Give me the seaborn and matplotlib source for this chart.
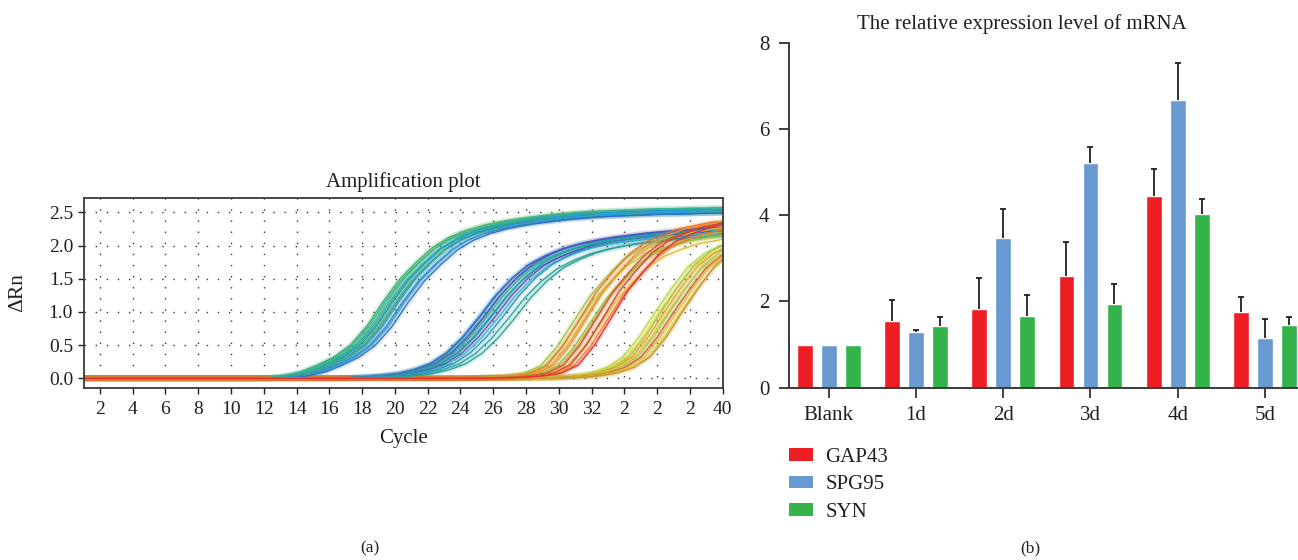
import numpy as np
import pandas as pd
import matplotlib
matplotlib.use("Agg")
import matplotlib.pyplot as plt
from matplotlib.patches import Patch
import seaborn as sns

# ---------------- data: (a) amplification plot ----------------
CYCLE_TICKS = [2, 4, 6, 8, 10, 12, 14, 16, 18, 20, 22, 24, 26, 28, 30, 32, 34, 36, 38, 40]
CYCLE_TICK_LABELS = ["2", "4", "6", "8", "10", "12", "14", "16", "18", "20", "22", "24",
                     "26", "28", "30", "32", "2", "2", "2", "40"]
DRN_TICKS = [0.0, 0.5, 1.0, 1.5, 2.0, 2.5]
DRN_TICK_LABELS = ["0.0", "0.5", "1.0", "1.5", "2.0", "2.5"]

# Read curve shapes per well group (dRn at cycles relative to the well's midpoint cycle)
PROFILE_A_START = -21
PROFILE_A = [0.0] * 14 + [0.01, 0.04, 0.10, 0.20, 0.32, 0.50, 0.78, 1.15, 1.48, 1.73, 1.95,
                          2.10, 2.20, 2.27, 2.32, 2.36, 2.39, 2.42, 2.44, 2.46, 2.47, 2.48,
                          2.49, 2.50, 2.50, 2.51, 2.51, 2.52, 2.52]
MID_A = [19.3, 19.4, 19.6, 19.65, 19.8, 19.9, 20.0, 20.15, 20.3, 20.45, 20.6, 20.8]
SCALE_A = [1.01, 1.0, 1.02, 0.99, 1.0, 1.01, 0.99, 1.0, 1.02, 0.99, 1.0, 0.99]
COLORS_A = ['#3DAE6A', '#2FB39A', '#4DB86B', '#29A8C8', '#3EB05A', '#1F9AD6',
            '#58B44E', '#2C8BD0', '#33AFA0', '#3A78C8', '#2BA3D8', '#2E6FC2']

PROFILE_B_START = -27
PROFILE_B = [0.0] * 19 + [0.01, 0.02, 0.04, 0.07, 0.13, 0.22, 0.38, 0.62, 0.92, 1.24, 1.50,
                          1.70, 1.83, 1.93, 2.00, 2.05, 2.09, 2.12, 2.15, 2.17, 2.19, 2.21,
                          2.22, 2.23]
MID_B = [25.1, 25.2, 25.35, 25.5, 25.6, 25.75, 25.9, 26.1, 26.3, 26.6, 26.9, 27.3]
SCALE_B = [1.0, 1.01, 0.99, 1.02, 1.0, 0.98, 1.01, 1.0, 0.99, 1.01, 0.97, 0.98]
COLORS_B = ['#2C9FCF', '#3A5FC0', '#2AA7B5', '#4C54B8', '#3BB08A', '#2F7FCB',
            '#1FA3A8', '#5A4FB0', '#36B6C4', '#2E8FC0', '#26A39A', '#2B9C9C']

PROFILE_C_START = -33
PROFILE_C = [0.0] * 26 + [0.005, 0.01, 0.02, 0.04, 0.08, 0.20, 0.50, 0.90, 1.30, 1.60, 1.87,
                          2.05, 2.16, 2.25, 2.30, 2.35, 2.37, 2.39]
MID_C = [30.9, 31.1, 31.3, 31.5, 31.7, 31.9, 32.1, 32.3, 32.5, 32.7, 32.95, 33.2]
SCALE_C = [0.95, 0.9, 1.0, 0.96, 1.0, 0.92, 0.94, 1.0, 0.9, 1.01, 0.97, 1.01]
COLORS_C = ['#9CC23C', '#B8C83A', '#E8732A', '#D9A62A', '#F08C2E', '#8FBF45',
            '#CFAE3A', '#D94A2C', '#E6B830', '#C7452E', '#EE7A28', '#E5282A']

PROFILE_D_START = -37
PROFILE_D = [0.0] * 29 + [0.005, 0.01, 0.02, 0.04, 0.08, 0.16, 0.32, 0.62, 1.00, 1.36, 1.68,
                          1.88, 2.00, 2.08]
MID_D = [35.9, 36.1, 36.3, 36.45, 36.6, 36.8, 37.0, 37.2, 37.4, 37.6]
SCALE_D = [1.0, 0.98, 1.02, 1.0, 0.97, 1.01, 0.99, 1.0, 0.98, 1.02]
COLORS_D = ['#B9D544', '#E9D23A', '#9CC840', '#E89A2C', '#D8C034', '#A8CC48',
            '#C0602E', '#EDB23A', '#C9D040', '#D08A2A']

# ---------------- data: (b) relative expression ----------------
DAYS = ["Blank", "1d", "2d", "3d", "4d", "5d"]
GENES = ["GAP43", "SPG95", "SYN"]
GAP43_MEAN = [1.0, 1.55, 1.83, 2.59, 4.45, 1.76]
GAP43_ERR = [0.0, 0.48, 0.72, 0.78, 0.61, 0.35]
SPG95_MEAN = [1.0, 1.29, 3.47, 5.21, 6.68, 1.15]
SPG95_ERR = [0.0, 0.04, 0.68, 0.37, 0.85, 0.44]
SYN_MEAN = [1.0, 1.43, 1.66, 1.94, 4.03, 1.46]
SYN_ERR = [0.0, 0.22, 0.48, 0.46, 0.34, 0.17]
BAR_COLORS = ['#ED1F24', '#6899D0', '#33B34A']
BAR_TICKS = [0, 2, 4, 6, 8]

# ---------------- style ----------------
sns.set_style("ticks")
plt.rcParams['font.family'] = ['Liberation Serif', 'DejaVu Serif']
TXT = '#231F20'
plt.rcParams['text.color'] = TXT
plt.rcParams['axes.labelcolor'] = TXT
plt.rcParams['xtick.color'] = TXT
plt.rcParams['ytick.color'] = TXT

W, H = 1298, 560
fig = plt.figure(figsize=(W / 100, H / 100), dpi=100)


def fa(l, t, r, b):
    return [l / W, 1 - b / H, (r - l) / W, (b - t) / H]


# ================= (a) =================
ax = fig.add_axes(fa(83.5, 197.7, 722.6, 388))
groups = [
    ("A", PROFILE_A_START, PROFILE_A, MID_A, SCALE_A, COLORS_A),
    ("B", PROFILE_B_START, PROFILE_B, MID_B, SCALE_B, COLORS_B),
    ("D", PROFILE_D_START, PROFILE_D, MID_D, SCALE_D, COLORS_D),
    ("C", PROFILE_C_START, PROFILE_C, MID_C, SCALE_C, COLORS_C),
]
frames = []
palette = {}
for name, start, prof, mids, scales, cols in groups:
    prof = np.asarray(prof)
    rel = np.arange(len(prof)) + start
    for i, mid in enumerate(mids):
        wid = f"{name}{i:02d}"
        frames.append(pd.DataFrame({"cycle": mid + rel, "drn": prof * scales[i], "well": wid}))
        palette[wid] = cols[i]
amp = pd.concat(frames, ignore_index=True)
order = list(palette.keys())

sns.lineplot(data=amp, x="cycle", y="drn", hue="well", hue_order=order, palette=palette,
             estimator=None, sort=False, legend=False, lw=4.0, alpha=0.15, ax=ax)
sns.lineplot(data=amp, x="cycle", y="drn", hue="well", hue_order=order, palette=palette,
             estimator=None, sort=False, legend=False, lw=1.0, alpha=0.95, ax=ax)

ax.set_xlim(1, 40)
ax.set_ylim(-0.146, 2.72)
ax.set_xticks(CYCLE_TICKS)
ax.set_xticklabels(CYCLE_TICK_LABELS)
ax.set_yticks(DRN_TICKS)
ax.set_yticklabels(DRN_TICK_LABELS)
ax.grid(True, color='#333333', linestyle=(0, (1, 7)), linewidth=1.0)
ax.set_axisbelow(True)
for s in ax.spines.values():
    s.set_visible(True)
    s.set_color('#3a3a3a')
    s.set_linewidth(1.3)
ax.tick_params(axis='both', labelsize=14, length=4.5, width=1.0, pad=3, direction='out')
ax.tick_params(axis='x', pad=5)
ax.set_title("Amplification plot", fontsize=15, pad=8)
ax.set_xlabel("Cycle", fontsize=15)
ax.set_ylabel("ΔRn", fontsize=15.5)
ax.xaxis.set_label_coords(0.5, -0.215)
ax.yaxis.set_label_coords(-0.088, 0.5)

# ================= (b) =================
axb = fig.add_axes(fa(788.7, 42.7, 1298, 387.7))
bdf = pd.DataFrame({
    "day": DAYS * 3,
    "gene": [GENES[0]] * 6 + [GENES[1]] * 6 + [GENES[2]] * 6,
    "value": GAP43_MEAN + SPG95_MEAN + SYN_MEAN,
})
sns.barplot(data=bdf, x="day", y="value", hue="gene", order=DAYS, hue_order=GENES,
            palette=BAR_COLORS, saturation=1, width=0.825, gap=0.335, errorbar=None,
            legend=False, ax=axb)
errs = [GAP43_ERR, SPG95_ERR, SYN_ERR]
for cont, err in zip(axb.containers, errs):
    for bar, e in zip(cont, err):
        if e > 0:
            top = bar.get_height()
            _, caps, _ = axb.errorbar(bar.get_x() + bar.get_width() / 2, top,
                                      yerr=[[0], [e]], fmt='none', ecolor=TXT, elinewidth=1.3,
                                      capsize=2.4, capthick=1.3, zorder=3)
            for c in caps:
                if np.allclose(c.get_ydata(), top):
                    c.set_visible(False)
axb.set_xlim(-0.457, 5.377)
axb.set_ylim(0, 8)
axb.set_yticks(BAR_TICKS)
axb.set_yticklabels([str(t) for t in BAR_TICKS])
axb.set_xlabel("")
axb.set_ylabel("")
sns.despine(ax=axb)
for s in ("left", "bottom"):
    axb.spines[s].set_color('#3a3a3a')
    axb.spines[s].set_linewidth(1.4)
axb.spines["left"].set_bounds(0, 8)
axb.tick_params(axis='both', labelsize=15, length=7, width=1.2, direction='out', pad=7)
axb.tick_params(axis='x', pad=6)
axb.set_title("The relative expression level of mRNA", fontsize=15, pad=10, x=0.458)

handles = [Patch(facecolor=c, edgecolor='none', label=g) for c, g in zip(BAR_COLORS, GENES)]
fig.legend(handles=handles, loc='upper left', bbox_to_anchor=(789 / W, 1 - 448 / H),
           frameon=False, fontsize=15, handlelength=1.15, handleheight=0.55,
           handletextpad=0.6, labelspacing=0.4, borderpad=0, borderaxespad=0)

fig.text(370 / W, 1 - 548 / H, "(a)", ha='center', va='center', fontsize=12.5)
fig.text(1030 / W, 1 - 548 / H, "(b)", ha='center', va='center', fontsize=12.5)

fig.savefig("out.png", dpi=100)
